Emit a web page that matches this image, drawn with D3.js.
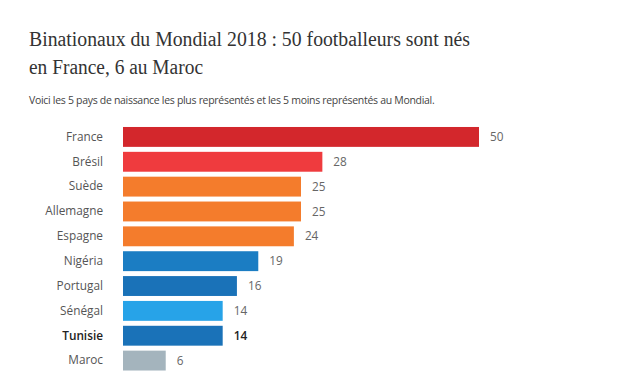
<!DOCTYPE html>
<html><head><meta charset="utf-8">
<script src="https://cdn.jsdelivr.net/npm/d3@7"></script>
<style>body{margin:0;background:#fff}svg{display:block}</style>
</head><body>
<svg id="c" width="630" height="376"></svg>
<script>
const countries = ["France","Brésil","Suède","Allemagne","Espagne","Nigéria","Portugal","Sénégal","Tunisie","Maroc"];
const values = [50,28,25,25,24,19,16,14,14,6];
const colors = ["#d3272c","#ef3b3e","#f47c2c","#f47c2c","#f47c2c","#1b7dc3","#1a72b8","#27a3e8","#1a72b8","#a4b4bd"];
const bold = ["Tunisie"];
const title1 = "Binationaux du Mondial 2018 : 50 footballeurs sont nés";
const title2 = "en France, 6 au Maroc";
const subtitle = "Voici les 5 pays de naissance les plus représentés et les 5 moins représentés au Mondial.";

const svg = d3.select("#c");
svg.append("text").attr("x",29).attr("y",46).attr("font-family","Liberation Serif, serif")
  .attr("font-size",20.5).attr("fill","#333").attr("textLength",441).attr("lengthAdjust","spacingAndGlyphs").text(title1);
svg.append("text").attr("x",29).attr("y",74).attr("font-family","Liberation Serif, serif")
  .attr("font-size",20.5).attr("fill","#333").attr("textLength",174).attr("lengthAdjust","spacingAndGlyphs").text(title2);
svg.append("text").attr("x",29).attr("y",104).attr("font-family","Open Sans, sans-serif")
  .attr("font-size",10.5).attr("fill","#444").attr("letter-spacing",-0.3).text(subtitle);

const x = d3.scaleLinear().domain([0,50]).range([123,479]);
const y = d3.scaleBand().domain(countries).range([124.5,373]).paddingInner(0.2).paddingOuter(0.1);

const g = svg.append("g");
g.selectAll("rect").data(countries).join("rect")
  .attr("x",x(0)).attr("y",d=>y(d)).attr("height",y.bandwidth())
  .attr("width",(d,i)=>x(values[i])-x(0)).attr("fill",(d,i)=>colors[i]);

const yAxis = d3.axisLeft(y).tickSize(0).tickPadding(0);
const ax = svg.append("g").attr("transform","translate(103,0)").call(yAxis);
ax.select(".domain").remove();
ax.selectAll("text").attr("font-family","Open Sans, sans-serif").attr("font-size",11.8)
  .attr("fill",d=>bold.includes(d)?"#222":"#555").attr("font-weight",d=>bold.includes(d)?600:"normal");

g.selectAll("text.v").data(countries).join("text").attr("class","v")
  .attr("x",(d,i)=>x(values[i])+11).attr("y",d=>y(d)+y.bandwidth()/2).attr("dy","0.35em")
  .attr("font-family","Open Sans, sans-serif").attr("font-size",11.8)
  .attr("fill",d=>bold.includes(d)?"#222":"#666").attr("font-weight",d=>bold.includes(d)?600:"normal")
  .text((d,i)=>values[i]);
</script>
</body></html>
